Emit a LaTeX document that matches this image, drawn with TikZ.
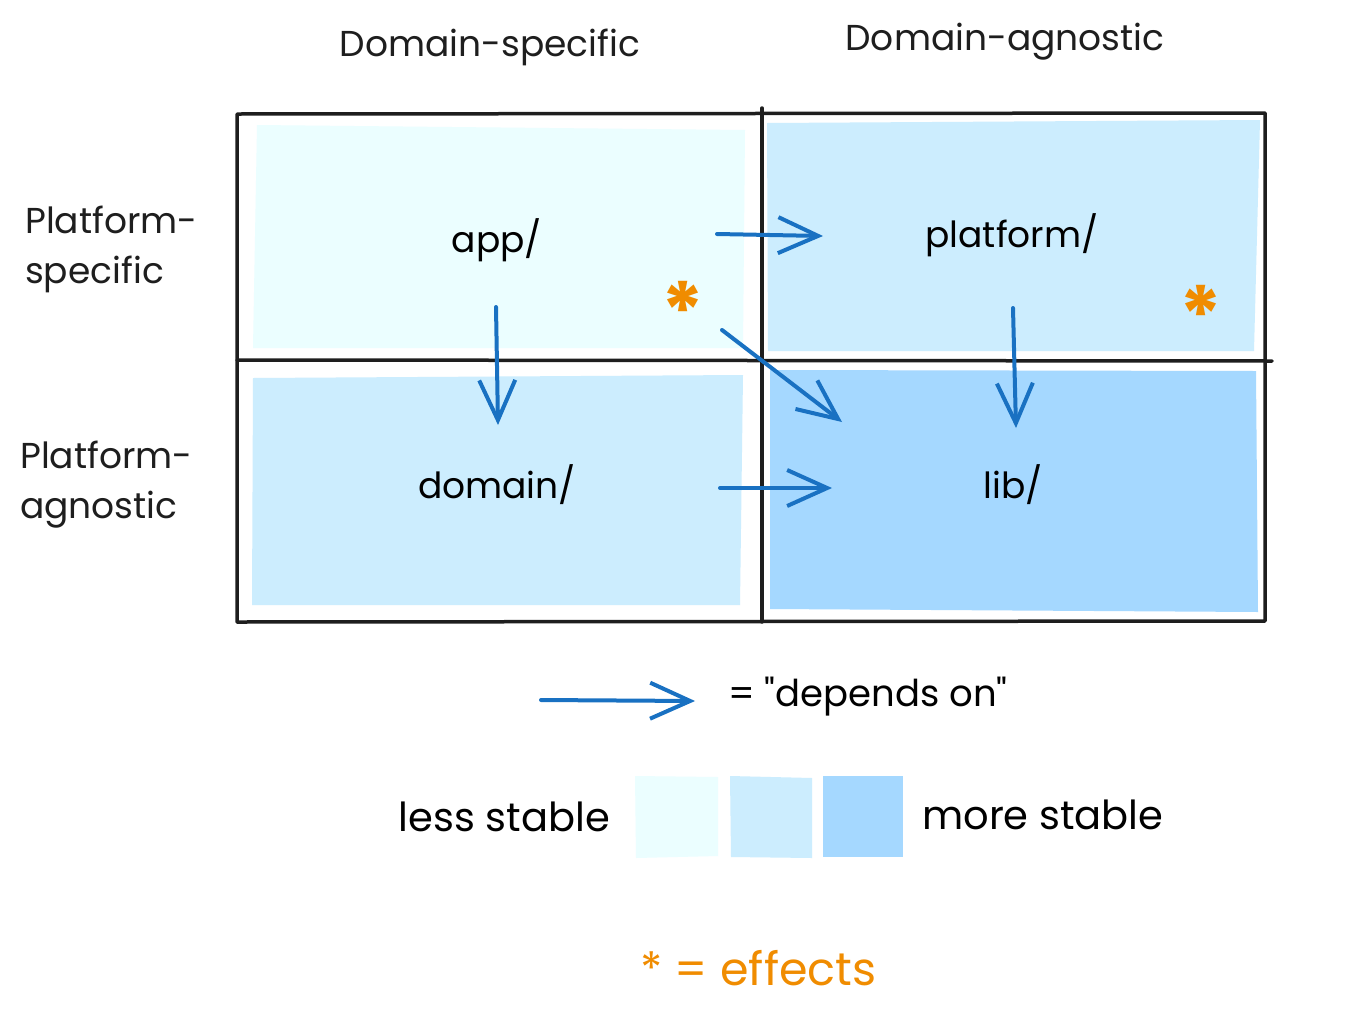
\documentclass[tikz,border=0pt]{standalone}
\usepackage{fontspec}
\setmainfont{Poppins}
\newfontfamily\plainfont{Poppins}
\usetikzlibrary{arrows.meta}
\definecolor{cA}{HTML}{EBFEFF}
\definecolor{cB}{HTML}{CCEDFE}
\definecolor{cC}{HTML}{A5D8FF}
\definecolor{arr}{HTML}{1971C2}
\definecolor{eff}{HTML}{F08C00}
\definecolor{ink}{HTML}{1E1E1E}
\begin{document}
\begin{tikzpicture}[x=1pt,y=-1pt,
  gridline/.style={draw=ink,line width=3.5pt,line cap=round,line join=round},
  dep/.style={draw=arr,line width=4pt,line cap=round,-{Straight Barb[length=40pt,width=36pt]}},
  lbl/.style={font=\fontsize{36}{50}\selectfont,text=black,inner sep=0pt},
  hdr/.style={font=\fontsize{36}{50}\selectfont,text=ink,inner sep=0pt,align=left},
  leg/.style={font=\fontsize{40}{44}\selectfont,text=black,inner sep=0pt},
  star/.style={font=\fontsize{80}{80}\selectfont\bfseries,text=eff,inner sep=0pt}]
\useasboundingbox (0,0) rectangle (1347,1018);
\fill[white] (0,0) rectangle (1347,1018);
% cell fills
\fill[cA] (257,125) -- (745,130) -- (743,348) -- (253,348) -- cycle;
\fill[cB] (767,123) -- (1260,120) -- (1254,351) -- (768,351) -- cycle;
\fill[cB] (253,378) -- (743,375) -- (740,605) -- (252,605) -- cycle;
\fill[cC] (770,370) -- (1256,371) -- (1258,612) -- (770,609) -- cycle;
% grid
\draw[gridline] (237,114) -- (1265,113) -- (1265,621) -- (237,622) -- cycle;
\draw[gridline] (762,108) -- (762,622);
\draw[gridline] (237,360) -- (1272,361);
% headers
\node[hdr] (hds) at (490,47) {Domain-specific};
\node[hdr] (hda) at (1005,42) {Domain-agnostic};
\node[hdr,anchor=north west] (hps) at (25,206) {Platform-\\specific};
\node[hdr,anchor=north west] (hpa) at (20,441) {Platform-\\agnostic};
% module labels
\node[lbl] (app) at (497,240) {app/};
\node[lbl] (platform) at (1012,235) {platform/};
\node[lbl] (domain) at (497,485) {domain/};
\node[lbl] (lib) at (1013,485) {lib/};
% effect markers
\node[star] (s1) at (683,311) {*};
\node[star] (s2) at (1201,315) {*};
% arrow ends
\coordinate (appE) at (717,234);
\coordinate (platW) at (823,236);
\coordinate (appS) at (496,307);
\coordinate (domN) at (498,425);
\coordinate (appSE) at (722,330);
\coordinate (libNW) at (842,422);
\coordinate (platS) at (1013,308);
\coordinate (libN) at (1016,428);
\coordinate (domE) at (720,488);
\coordinate (libW) at (832,488);
\draw[dep] (appE) -- (platW);
\draw[dep] (appS) -- (domN);
\draw[dep] (appSE) -- (libNW);
\draw[dep] (platS) -- (libN);
\draw[dep] (domE) -- (libW);
% legend
\coordinate (legA) at (541,700);
\coordinate (legB) at (695,701);
\draw[dep] (legA) -- (legB);
\node[leg,anchor=west,font=\plainfont\fontsize{37}{44}\selectfont] (depon) at (728,697) {= "depends on"};
\node[leg,anchor=east] (less) at (610,817) {less stable};
\fill[cA] (635,776) -- (718,777) -- (718,856) -- (636,858) -- cycle;
\fill[cB] (730,776) -- (812,778) -- (812,858) -- (731,857) -- cycle;
\fill[cC] (823,776) -- (903,776) -- (903,857) -- (823,857) -- cycle;
\node[leg,anchor=west] (more) at (922,815) {more stable};
\node[leg,anchor=west,text=eff,font=\fontsize{46}{50}\selectfont] (effects) at (640,968) {* = effects};
\end{tikzpicture}
\end{document}
